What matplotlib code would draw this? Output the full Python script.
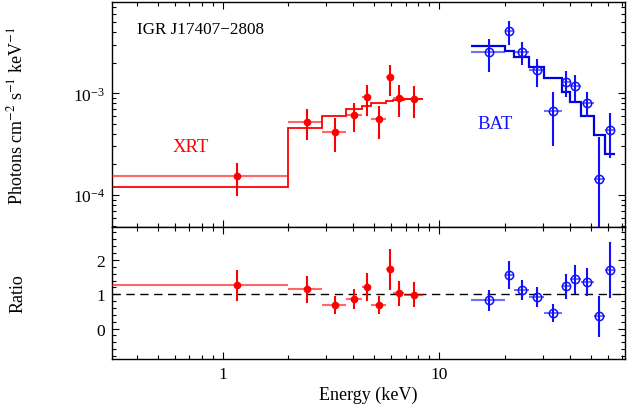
import matplotlib
matplotlib.use("Agg")
import matplotlib.pyplot as plt
import numpy as np
from matplotlib.ticker import FuncFormatter, LogLocator, MultipleLocator, NullFormatter

plt.rcParams["font.family"] = ["Liberation Serif", "DejaVu Serif"]
plt.rcParams["mathtext.fontset"] = "stix"
plt.rcParams["font.size"] = 12.5

# XRT spectrum (keV, photons cm^-2 s^-1 keV^-1)
xrt_edges = [0.3, 2.0, 2.86, 3.70, 4.41, 4.86, 5.65, 6.13, 6.89, 8.38]
xrt_energy = [1.16, 2.44, 3.29, 4.05, 4.62, 5.27, 5.90, 6.49, 7.64]
xrt_flux = [1.54e-4, 5.26e-4, 4.19e-4, 6.12e-4, 9.14e-4, 5.55e-4, 1.44e-3, 9.0e-4, 8.85e-4]
xrt_flux_lo = [0.98e-4, 3.48e-4, 2.67e-4, 4.14e-4, 6.02e-4, 3.55e-4, 9.47e-4, 5.80e-4, 5.68e-4]
xrt_flux_hi = [2.07e-4, 7.0e-4, 5.71e-4, 8.0e-4, 1.21e-3, 7.55e-4, 1.91e-3, 1.21e-3, 1.19e-3]
xrt_model = [1.21e-4, 4.53e-4, 6.02e-4, 7.0e-4, 7.55e-4, 7.97e-4, 8.34e-4, 8.6e-4, 8.85e-4]
xrt_ratio = [1.26, 1.155, 0.69, 0.87, 1.21, 0.69, 1.73, 1.04, 0.99]
xrt_ratio_lo = [0.81, 0.75, 0.43, 0.57, 0.80, 0.43, 1.13, 0.65, 0.64]
xrt_ratio_hi = [1.71, 1.54, 0.94, 1.15, 1.62, 0.94, 2.31, 1.40, 1.35]

# BAT spectrum
bat_edges = [14.0, 20.1, 22.0, 26.0, 30.5, 36.7, 40.1, 45.1, 51.5, 58.3, 65.0]
bat_energy = [17.0, 21.0, 24.1, 28.2, 33.4, 38.4, 42.5, 47.9, 54.6, 61.4]
bat_flux = [2.53e-3, 4.07e-3, 2.56e-3, 1.69e-3, 6.65e-4, 1.28e-3, 1.17e-3, 7.97e-4, 1.44e-4, 4.36e-4]
bat_flux_lo = [1.63e-3, 3.0e-3, 1.91e-3, 1.15e-3, 3.05e-4, 9.3e-4, 8.46e-4, 5.8e-4, 1.0e-5, 2.30e-4]
bat_flux_hi = [3.42e-3, 5.1e-3, 3.17e-3, 2.17e-3, 1.02e-3, 1.67e-3, 1.51e-3, 1.02e-3, 3.69e-4, 6.4e-4]
bat_model = [2.94e-3, 2.59e-3, 2.26e-3, 1.83e-3, 1.40e-3, 1.04e-3, 8.16e-4, 5.94e-4, 3.89e-4, 2.55e-4]
bat_ratio = [0.83, 1.57, 1.13, 0.91, 0.46, 1.23, 1.44, 1.36, 0.37, 1.72]
bat_ratio_lo = [0.52, 1.15, 0.83, 0.62, 0.20, 0.86, 1.01, 0.94, -0.24, 0.89]
bat_ratio_hi = [1.13, 1.98, 1.42, 1.20, 0.72, 1.59, 1.85, 1.76, 0.94, 2.53]

RED = "#ff0000"
BLUE = "#1010ff"


def draw_points(ax, energy, edges, y, y_lo, y_hi, color, filled):
    energy = np.asarray(energy)
    edges = np.asarray(edges)
    y = np.asarray(y)
    # horizontal bars span the bin, a bit lighter than the vertical ones
    ax.hlines(y, edges[:-1], edges[1:], color=color, lw=1.5, alpha=0.6, zorder=3)
    ax.vlines(energy, y_lo, y_hi, color=color, lw=1.5, zorder=3)
    if filled:
        ax.plot(energy, y, "o", ms=4.5, color=color, zorder=4)
    else:
        ax.plot(energy, y, "o", ms=6, mfc="none", mec=color, mew=1.1, zorder=4)


def style_axis(ax):
    ax.tick_params(which="both", direction="in", top=True, right=True)
    ax.tick_params(which="major", length=5, width=0.8, pad=5)
    ax.tick_params(which="minor", length=2.6, width=0.8)
    for sp in ax.spines.values():
        sp.set_linewidth(1.0)


fig = plt.figure(figsize=(6.3, 4.1), dpi=100)
ax_top = fig.add_axes([0.1778, 0.4439, 0.8143, 0.5488])
ax_bot = fig.add_axes([0.1778, 0.122, 0.8143, 0.3219], sharex=ax_top)

# upper panel: unfolded spectrum with model
ax_top.stairs(xrt_model, xrt_edges, color=RED, lw=1.3, baseline=None, zorder=2)
ax_top.stairs(bat_model, bat_edges, color="#0000e0", lw=1.6, baseline=None, zorder=2)
draw_points(ax_top, xrt_energy, xrt_edges, xrt_flux, xrt_flux_lo, xrt_flux_hi, RED, True)
draw_points(ax_top, bat_energy, bat_edges, bat_flux, bat_flux_lo, bat_flux_hi, BLUE, False)

ax_top.set_xscale("log")
ax_top.set_yscale("log")
ax_top.set_xlim(0.308, 72)
ax_top.set_ylim(4.85e-5, 7.9e-3)
ax_top.yaxis.set_major_locator(LogLocator(base=10, numticks=10))
ax_top.yaxis.set_minor_locator(LogLocator(base=10, subs=np.arange(2, 10), numticks=10))
ax_top.yaxis.set_minor_formatter(NullFormatter())
ax_top.tick_params(labelbottom=False)
ax_top.set_ylabel(r"Photons cm$^{-2}$ s$^{-1}$ keV$^{-1}$", fontsize=13)
ax_top.yaxis.set_label_coords(-0.166, 0.5)
style_axis(ax_top)

ax_top.text(0.048, 0.88, "IGR J17407\u22122808", transform=ax_top.transAxes,
            ha="left", va="center", fontsize=12.3)
ax_top.text(0.154, 0.357, "XRT", transform=ax_top.transAxes, color=RED,
            ha="center", va="center", fontsize=13.5)
ax_top.text(0.747, 0.458, "BAT", transform=ax_top.transAxes, color=BLUE,
            ha="center", va="center", fontsize=13.5)

# lower panel: data / model ratio
ax_bot.axhline(1.0, color="black", lw=1.0, ls=(0, (6, 4)), zorder=1)
draw_points(ax_bot, xrt_energy, xrt_edges, xrt_ratio, xrt_ratio_lo, xrt_ratio_hi, RED, True)
draw_points(ax_bot, bat_energy, bat_edges, bat_ratio, bat_ratio_lo, bat_ratio_hi, BLUE, False)

ax_bot.set_ylim(-0.886, 2.96)
ax_bot.yaxis.set_major_locator(MultipleLocator(1))
ax_bot.yaxis.set_minor_locator(MultipleLocator(0.2))
ax_bot.xaxis.set_major_formatter(FuncFormatter(lambda v, p: f"{v:g}"))
ax_bot.xaxis.set_minor_formatter(NullFormatter())
ax_bot.set_ylabel("Ratio", fontsize=13)
ax_bot.yaxis.set_label_coords(-0.166, 0.5)
ax_bot.set_xlabel("Energy (keV)", fontsize=13, labelpad=3)
style_axis(ax_bot)

fig.savefig("out.png", dpi=100)
